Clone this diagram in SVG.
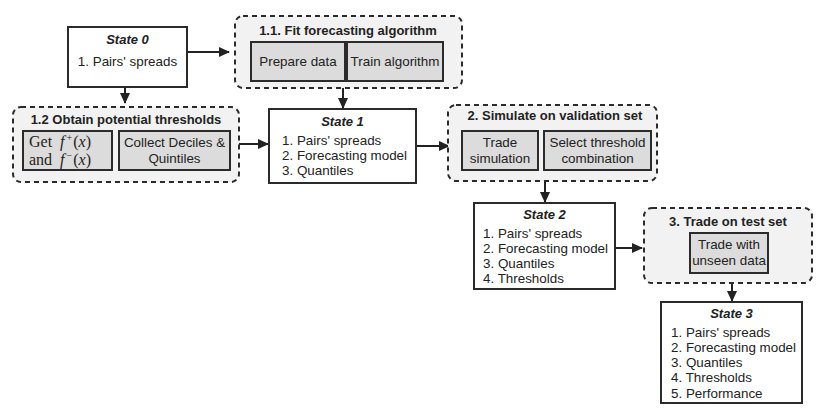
<svg xmlns="http://www.w3.org/2000/svg" width="832" height="411" viewBox="0 0 832 411">
<style>
.grp{fill:#f2f2f2;stroke:#2b2b2b;stroke-width:2;stroke-dasharray:5 4}
.in{fill:#dcdcdc;stroke:#2b2b2b;stroke-width:2}
.st{fill:#fff;stroke:#2b2b2b;stroke-width:2}
text{font-family:"Liberation Sans",Arial,sans-serif;font-size:13.4px;fill:#222}
.t{font-weight:bold;text-anchor:middle;font-size:13px}
.h{font-weight:bold;font-style:italic;text-anchor:middle;font-size:13px}
.c{text-anchor:middle}
.m{font-family:"Liberation Serif","Times New Roman",serif;font-size:16px}
.e{stroke:#222;stroke-width:2;fill:none}
</style>
<defs>
<marker id="ah" markerWidth="11" markerHeight="10" refX="10" refY="5" orient="auto" markerUnits="userSpaceOnUse">
<path d="M0,0 L11,5 L0,10 Z" fill="#222"/>
</marker>
</defs>
<g id="connectors">
<line class="e" x1="187" y1="52" x2="229" y2="52" marker-end="url(#ah)"/>
<line class="e" x1="125" y1="87" x2="125" y2="103" marker-end="url(#ah)"/>
<line class="e" x1="343" y1="88" x2="343" y2="108" marker-end="url(#ah)"/>
<line class="e" x1="239" y1="144" x2="268" y2="144" marker-end="url(#ah)"/>
<line class="e" x1="416" y1="146" x2="449" y2="146" marker-end="url(#ah)"/>
<line class="e" x1="545" y1="181" x2="545" y2="202" marker-end="url(#ah)"/>
<line class="e" x1="615" y1="248" x2="642" y2="248" marker-end="url(#ah)"/>
<line class="e" x1="732" y1="283" x2="732" y2="301" marker-end="url(#ah)"/>
</g>
<g id="state0">
<rect class="st" x="68" y="27" width="119" height="60"/>
<text class="h" x="127.5" y="44">State 0</text>
<text class="c" x="127.5" y="66">1. Pairs' spreads</text>
</g>
<g id="fit">
<rect class="grp" x="235" y="16" width="227" height="72" rx="8"/>
<text class="t" x="348" y="35">1.1. Fit forecasting algorithm</text>
<rect class="in" x="251" y="42" width="94" height="39"/>
<text class="c" x="298" y="66">Prepare data</text>
<rect class="in" x="347" y="42" width="96" height="39"/>
<text class="c" x="395" y="66">Train algorithm</text>
</g>
<g id="thresholds">
<rect class="grp" x="13" y="107" width="226" height="75" rx="8"/>
<text class="t" x="126" y="124">1.2 Obtain potential thresholds</text>
<rect class="in" x="23" y="131" width="89" height="39"/>
<text class="m" x="29" y="146.5">Get<tspan dx="8" font-style="italic">f</tspan><tspan dx="2" font-size="10" dy="-6">+</tspan><tspan dx="1" dy="6">(</tspan><tspan font-style="italic">x</tspan>)</text>
<text class="m" x="29" y="164.5">and<tspan dx="8" font-style="italic">f</tspan><tspan dx="2" font-size="10" dy="-6">−</tspan><tspan dx="1" dy="6">(</tspan><tspan font-style="italic">x</tspan>)</text>
<rect class="in" x="119" y="131" width="111" height="39"/>
<text class="c" x="174.5" y="147">Collect Deciles &amp;</text>
<text class="c" x="174.5" y="163">Quintiles</text>
</g>
<g id="state1">
<rect class="st" x="269" y="109" width="147" height="74"/>
<text class="h" x="342.5" y="126">State 1</text>
<text x="282" y="145">1. Pairs' spreads</text>
<text x="282" y="160">2. Forecasting model</text>
<text x="282" y="175">3. Quantiles</text>
</g>
<g id="simulate">
<rect class="grp" x="448" y="105" width="209" height="76" rx="8"/>
<text class="t" x="555" y="120">2. Simulate on validation set</text>
<rect class="in" x="462" y="131" width="76" height="39"/>
<text class="c" x="500" y="147">Trade</text>
<text class="c" x="500" y="163">simulation</text>
<rect class="in" x="544" y="131" width="107" height="39"/>
<text class="c" x="597.5" y="147">Select threshold</text>
<text class="c" x="597.5" y="163">combination</text>
</g>
<g id="state2">
<rect class="st" x="474" y="203" width="141" height="86"/>
<text class="h" x="544.5" y="219">State 2</text>
<text x="483" y="238">1. Pairs' spreads</text>
<text x="483" y="253">2. Forecasting model</text>
<text x="483" y="268">3. Quantiles</text>
<text x="483" y="283">4. Thresholds</text>
</g>
<g id="trade">
<rect class="grp" x="644" y="208" width="168" height="75" rx="8"/>
<text class="t" x="728" y="226">3. Trade on test set</text>
<rect class="in" x="690" y="233" width="78" height="40"/>
<text class="c" x="729" y="249">Trade with</text>
<text class="c" x="729" y="265">unseen data</text>
</g>
<g id="state3">
<rect class="st" x="661" y="302" width="141" height="101"/>
<text class="h" x="731.5" y="318">State 3</text>
<text x="671" y="337">1. Pairs' spreads</text>
<text x="671" y="352">2. Forecasting model</text>
<text x="671" y="367">3. Quantiles</text>
<text x="671" y="382">4. Thresholds</text>
<text x="671" y="398">5. Performance</text>
</g>
</svg>
